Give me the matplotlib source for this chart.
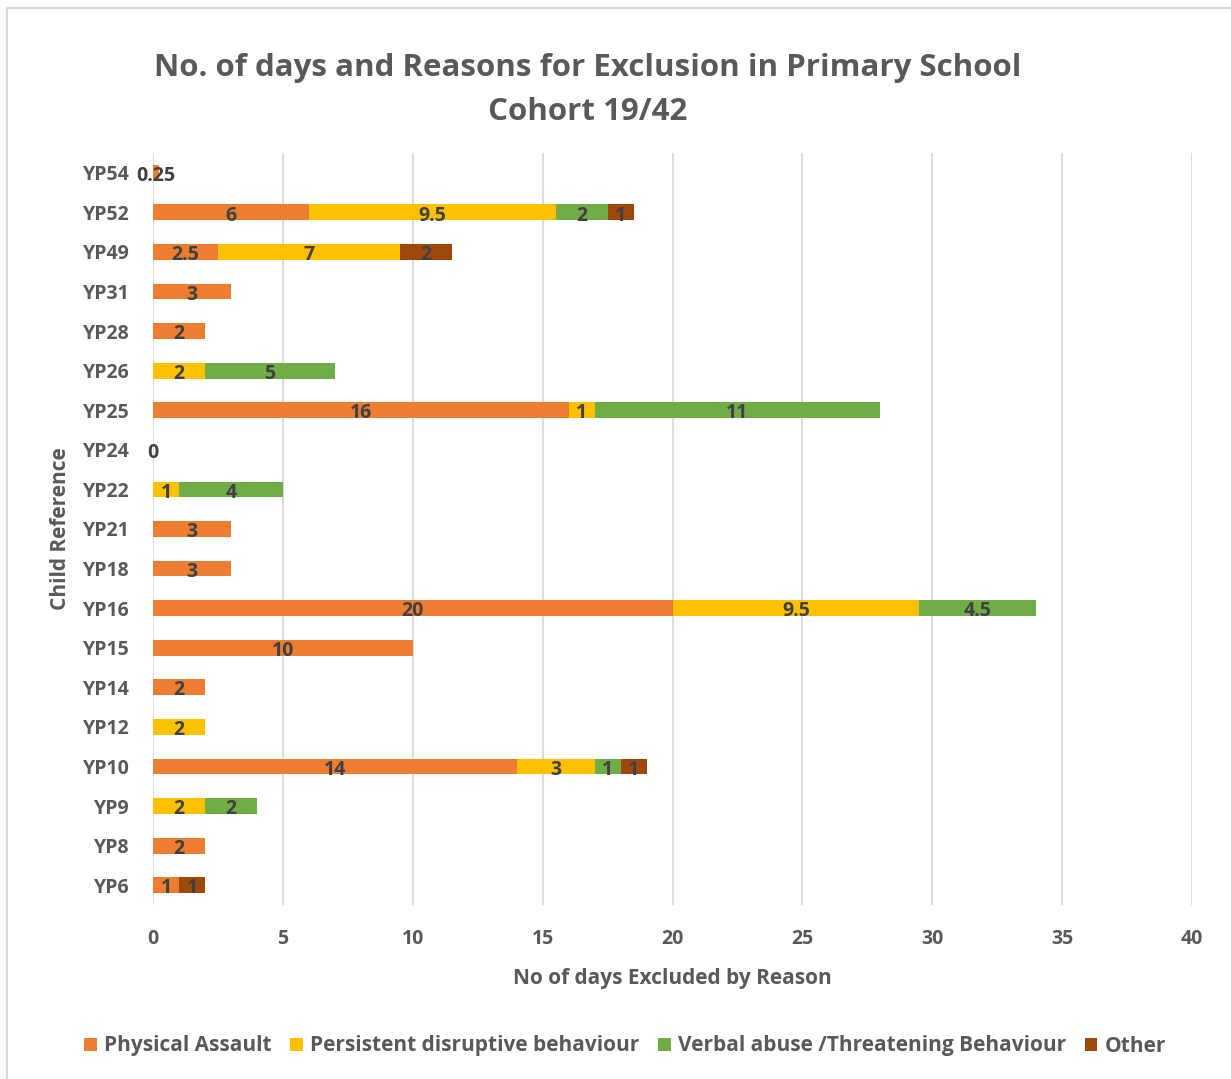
import matplotlib
matplotlib.use("Agg")
import matplotlib.pyplot as plt
from matplotlib.lines import Line2D
from matplotlib.patches import Patch

plt.rcParams["font.family"] = ["Open Sans", "DejaVu Sans"]
plt.rcParams["font.weight"] = "bold"

# data (top to bottom as shown)
children = ["YP54", "YP52", "YP49", "YP31", "YP28", "YP26", "YP25", "YP24", "YP22", "YP21",
            "YP18", "YP16", "YP15", "YP14", "YP12", "YP10", "YP9", "YP8", "YP6"]
physical = [0.25, 6, 2.5, 3, 2, None, 16, 0, None, 3, 3, 20, 10, 2, None, 14, None, 2, 1]
persistent = [None, 9.5, 7, None, None, 2, 1, None, 1, None, None, 9.5, None, None, 2, 3, 2, None, None]
verbal = [None, 2, None, None, None, 5, 11, None, 4, None, None, 4.5, None, None, None, 1, 2, None, None]
other = [None, 1, 2, None, None, None, None, None, None, None, None, None, None, None, None, 1, None, None, 1]

series_names = ["Physical Assault", "Persistent disruptive behaviour",
                "Verbal abuse /Threatening Behaviour", "Other"]
series_colors = ["#ED7D31", "#FFC000", "#70AD47", "#9E480E"]
series = [physical, persistent, verbal, other]

TEXT = "#595959"
LABEL = "#404040"

fig = plt.figure(figsize=(12.31, 10.79), dpi=100)
ax = fig.add_axes([153 / 1231, 1 - 905 / 1079, (1192 - 153) / 1231, (905 - 153) / 1079])

n = len(children)
ypos = [n - 1 - i for i in range(n)]
left = [0.0] * n
for vals, name, col in zip(series, series_names, series_colors):
    widths = [v if v is not None else 0 for v in vals]
    ax.barh(ypos, widths, left=left, height=0.4, color=col, label=name, zorder=3)
    for i, v in enumerate(vals):
        if v is None:
            continue
        ax.text(left[i] + v / 2, ypos[i] - 0.08, "%g" % v, ha="center", va="center",
                fontsize=14, color=LABEL, fontweight="bold", zorder=4)
    left = [l + w for l, w in zip(left, widths)]

ax.set_xlim(0, 40)
ax.set_ylim(-0.5, n - 0.5)
ax.set_xticks(range(0, 41, 5))
ax.set_yticks(ypos)
ax.set_yticklabels(children)
ax.tick_params(length=0, labelsize=14, labelcolor=TEXT, pad=17)
ax.tick_params(axis="x", pad=17)
for lbl in ax.get_xticklabels() + ax.get_yticklabels():
    lbl.set_fontweight("bold")
ax.grid(axis="x", color="#D9D9D9", linewidth=1.3, zorder=0)
for s in ax.spines.values():
    s.set_visible(False)

ax.set_xlabel("No of days Excluded by Reason", fontsize=15, color=TEXT, fontweight="bold", labelpad=14)
ax.set_ylabel("Child Reference", fontsize=15, color=TEXT, fontweight="bold", labelpad=8)

fig.text(588 / 1231, 1 - 68 / 1079, "No. of days and Reasons for Exclusion in Primary School",
         ha="center", va="center", fontsize=22.5, color=TEXT, fontweight="bold")
fig.text(588 / 1231, 1 - 112 / 1079, "Cohort 19/42",
         ha="center", va="center", fontsize=22.5, color=TEXT, fontweight="bold")

handles = [Patch(facecolor=c, label=nm) for nm, c in zip(series_names, series_colors)]
fig.legend(handles=handles, loc="center", bbox_to_anchor=(625 / 1231, 1 - 1046 / 1079),
           ncol=4, frameon=False, handlelength=0.6, handleheight=0.6,
           handletextpad=0.35, columnspacing=0.9, labelcolor=TEXT,
           prop={"weight": "bold", "size": 15})

# chart area border
fig.add_artist(Line2D([7 / 1231, 1], [1 - 8 / 1079, 1 - 8 / 1079], color="#D9D9D9", lw=1.5,
                      transform=fig.transFigure))
fig.add_artist(Line2D([7 / 1231, 7 / 1231], [0, 1 - 8 / 1079], color="#D9D9D9", lw=1.5,
                      transform=fig.transFigure))

fig.savefig("out.png", dpi=100, facecolor="white")
